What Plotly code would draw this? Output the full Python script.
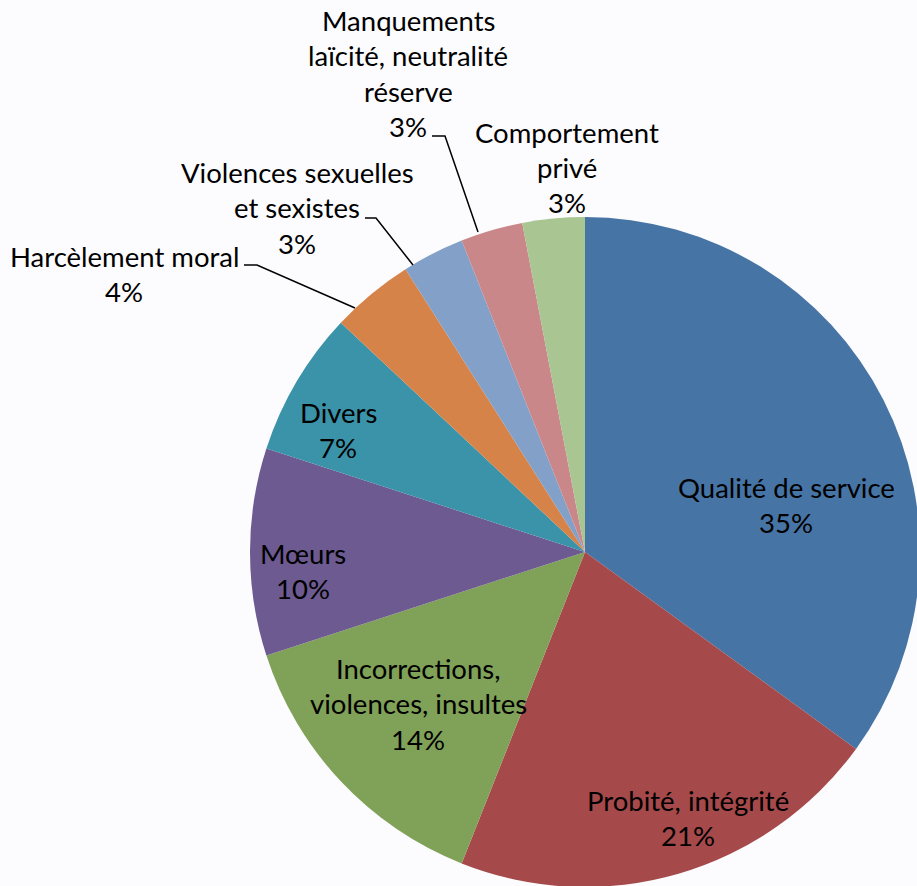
import plotly.graph_objects as go

# Complaint categories, clockwise from 12 o'clock
categories = [
    "Qualité de service",
    "Probité, intégrité",
    "Incorrections,<br>violences, insultes",
    "Mœurs",
    "Divers",
    "Harcèlement moral",
    "Violences sexuelles<br>et sexistes",
    "Manquements<br>laïcité, neutralité<br>réserve",
    "Comportement<br>privé",
]
values = [35, 21, 14, 10, 7, 4, 3, 3, 3]
colors = [
    "#4674a5", "#a5494a", "#80a158", "#6c5a90", "#3a93a8",
    "#d6834a", "#83a0c8", "#c9878a", "#a8c592",
]

# Canvas (slightly larger than the visible page so the disc runs off the edges)
W, H = 930, 900
CX, CY, R = 585, 552, 335

# Label anchors: centre x and y of the first text line (pixels), line step
label_pos = [
    (786, 487), (688, 800), (418, 668), (303, 553), (338, 412),
    (124, 256), (297, 172), (408, 20), (567, 132),
]
LINE_STEP = 35.5

# Leader lines for the small outer slices (pixel polylines)
leaders = {
    5: [(244, 265), (257, 265), (355, 308)],
    6: [(365, 218), (376, 218), (413, 265)],
    7: [(432, 136), (445, 136), (478, 232)],
}

FONT = dict(family="Lato, 'Open Sans', sans-serif", size=27.5, color="#000000")


def px(x):
    return x / W


def py(y):
    return 1 - y / H


fig = go.Figure(
    go.Pie(
        labels=categories,
        values=values,
        sort=False,
        direction="clockwise",
        rotation=0,
        marker=dict(colors=colors, line=dict(width=0)),
        textinfo="none",
        hoverinfo="label+percent",
        showlegend=False,
        domain=dict(
            x=[(CX - R) / W, (CX + R) / W],
            y=[(H - CY - R) / H, (H - CY + R) / H],
        ),
    )
)

annotations = []
for i, (name, v) in enumerate(zip(categories, values)):
    lines = name.split("<br>") + [f"{v}%"]
    x0, y0 = label_pos[i]
    for k, line in enumerate(lines):
        annotations.append(dict(
            x=px(x0), y=py(y0 + k * LINE_STEP), xref="paper", yref="paper",
            text=line, showarrow=False, xanchor="center", yanchor="middle",
            font=FONT,
        ))

shapes = []
for i, pts in leaders.items():
    path = "M " + " L ".join(f"{px(x)},{py(y)}" for x, y in pts)
    shapes.append(dict(type="path", path=path, xref="paper", yref="paper",
                       line=dict(color="#000000", width=1.5)))

fig.update_layout(
    width=W, height=H,
    margin=dict(l=0, r=0, t=0, b=0),
    paper_bgcolor="#fcfcfe",
    plot_bgcolor="#fcfcfe",
    annotations=annotations,
    shapes=shapes,
)

fig.write_html(
    "out.html",
    post_script=(
        "document.documentElement.style.overflow='hidden';"
        "document.body.style.overflow='hidden';"
        "document.body.style.margin='0';"
        "document.body.style.background='#fcfcfe';"
    ),
)
